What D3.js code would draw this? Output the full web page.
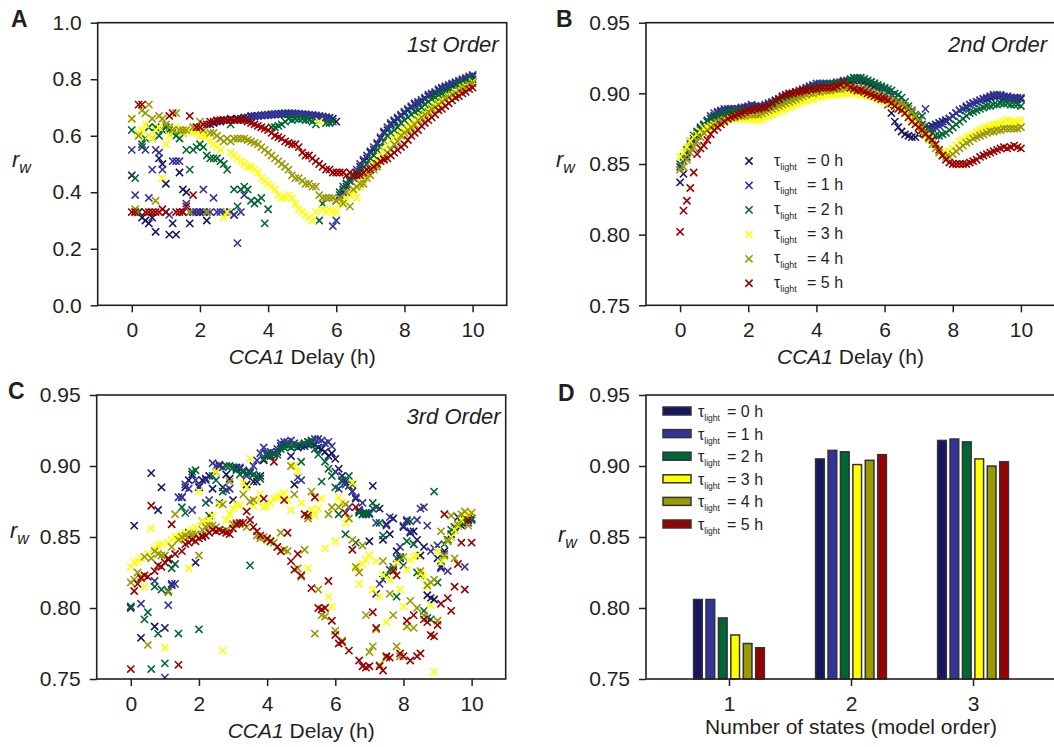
<!DOCTYPE html>
<html>
<head>
<meta charset="utf-8">
<script src="https://cdn.jsdelivr.net/npm/d3@7"></script>
<style>
  body { margin: 0; background: #fff; }
  svg text { font-family: "Liberation Sans", Arial, Helvetica, sans-serif; fill: #231f20; }
</style>
</head>
<body>
<svg id="fig" width="1054" height="747"></svg>
<script>
// ---- data ----
const COLORS = ["#151560", "#333399", "#006633", "#ffff00", "#999900", "#990000"];
const TAU_LIGHT = ["0", "1", "2", "3", "4", "5"];
const X_TICKS = [0, 2, 4, 6, 8, 10];
const Y_TICKS_ORDER1 = [0, 0.2, 0.4, 0.6, 0.8, 1.0];
const Y_TICKS_FINE = [0.75, 0.80, 0.85, 0.90, 0.95];
const MODEL_ORDER = [1, 2, 3];

// CCA1 delay grid (h)
const DELAY = [
  0, 0.1, 0.2, 0.3, 0.4, 0.5, 0.6, 0.7, 0.8, 0.9,
  1, 1.1, 1.2, 1.3, 1.4, 1.5, 1.6, 1.7, 1.8, 1.9,
  2, 2.1, 2.2, 2.3, 2.4, 2.5, 2.6, 2.7, 2.8, 2.9,
  3, 3.1, 3.2, 3.3, 3.4, 3.5, 3.6, 3.7, 3.8, 3.9,
  4, 4.1, 4.2, 4.3, 4.4, 4.5, 4.6, 4.7, 4.8, 4.9,
  5, 5.1, 5.2, 5.3, 5.4, 5.5, 5.6, 5.7, 5.8, 5.9,
  6, 6.1, 6.2, 6.3, 6.4, 6.5, 6.6, 6.7, 6.8, 6.9,
  7, 7.1, 7.2, 7.3, 7.4, 7.5, 7.6, 7.7, 7.8, 7.9,
  8, 8.1, 8.2, 8.3, 8.4, 8.5, 8.6, 8.7, 8.8, 8.9,
  9, 9.1, 9.2, 9.3, 9.4, 9.5, 9.6, 9.7, 9.8, 9.9,
  10
];

// 1st order model, r_w per delay
const order1_tau0 = [
  0.46, 0.33, 0.33, 0.31, 0.30, 0.29, 0.31, 0.26, 0.52, 0.50,
  0.43, 0.25, 0.29, 0.25, 0.47, 0.41, 0.40, 0.29, 0.33, 0.33,
  0.33, 0.33, 0.30, 0.64, 0.645, 0.65, 0.65, 0.655, 0.655, 0.66,
  0.32, 0.66, 0.66, 0.665, 0.665, 0.67, 0.67, 0.67, 0.672, 0.672,
  0.673, 0.674, 0.675, 0.676, 0.676, 0.677, 0.677, 0.677, 0.676, 0.676,
  0.675, 0.674, 0.673, 0.672, 0.67, 0.668, 0.666, 0.664, 0.662, 0.66,
  0.65, 0.38, 0.40, 0.42, 0.44, 0.46, 0.47, 0.49, 0.51, 0.52,
  0.54, 0.55, 0.57, 0.59, 0.61, 0.62, 0.64, 0.65, 0.66, 0.67,
  0.68, 0.69, 0.70, 0.71, 0.715, 0.72, 0.73, 0.74, 0.745, 0.75,
  0.76, 0.765, 0.77, 0.775, 0.78, 0.785, 0.79, 0.795, 0.80, 0.805,
  0.81
];
const order1_tau1 = [
  0.55, 0.39, 0.33, 0.56, 0.55, 0.38, 0.48, 0.55, 0.54, 0.48,
  0.33, 0.32, 0.51, 0.51, 0.51, 0.33, 0.36, 0.33, 0.33, 0.33,
  0.33, 0.41, 0.33, 0.33, 0.38, 0.33, 0.33, 0.33, 0.33, 0.33,
  0.32, 0.22, 0.33, 0.39, 0.66, 0.665, 0.668, 0.67, 0.672, 0.674,
  0.675, 0.676, 0.677, 0.678, 0.679, 0.68, 0.68, 0.68, 0.679, 0.678,
  0.677, 0.676, 0.675, 0.674, 0.672, 0.67, 0.668, 0.666, 0.664, 0.28,
  0.30, 0.39, 0.41, 0.43, 0.45, 0.46, 0.48, 0.50, 0.515, 0.53,
  0.545, 0.56, 0.575, 0.595, 0.615, 0.63, 0.645, 0.655, 0.665, 0.675,
  0.685, 0.695, 0.705, 0.715, 0.72, 0.727, 0.735, 0.745, 0.75, 0.755,
  0.765, 0.77, 0.775, 0.78, 0.785, 0.79, 0.795, 0.80, 0.805, 0.81,
  0.815
];
const order1_tau2 = [
  0.62, 0.45, 0.33, 0.57, 0.59, 0.63, 0.59, 0.63, 0.60, 0.62,
  0.63, 0.62, 0.61, 0.60, 0.59, 0.61, 0.55, 0.48, 0.55, 0.56,
  0.57, 0.56, 0.53, 0.52, 0.52, 0.52, 0.51, 0.50, 0.48, 0.64,
  0.41, 0.35, 0.41, 0.42, 0.41, 0.37, 0.36, 0.37, 0.38, 0.29,
  0.34, 0.63, 0.63, 0.635, 0.64, 0.65, 0.66, 0.655, 0.66, 0.66,
  0.66, 0.655, 0.655, 0.65, 0.64, 0.30, 0.36, 0.645, 0.645, 0.65,
  0.37, 0.40, 0.42, 0.43, 0.44, 0.45, 0.46, 0.47, 0.49, 0.50,
  0.52, 0.53, 0.55, 0.56, 0.58, 0.60, 0.61, 0.62, 0.63, 0.645,
  0.655, 0.665, 0.675, 0.685, 0.69, 0.70, 0.71, 0.72, 0.73, 0.735,
  0.745, 0.75, 0.755, 0.76, 0.765, 0.775, 0.78, 0.785, 0.79, 0.795,
  0.80
];
const order1_tau3 = [
  0.66, 0.33, 0.61, 0.62, 0.64, 0.60, 0.59, 0.62, 0.63, 0.45,
  0.57, 0.60, 0.62, 0.63, 0.62, 0.61, 0.62, 0.62, 0.61, 0.61,
  0.60, 0.60, 0.60, 0.58, 0.57, 0.56, 0.55, 0.31, 0.33, 0.54,
  0.53, 0.52, 0.51, 0.50, 0.49, 0.49, 0.48, 0.47, 0.45, 0.44,
  0.43, 0.42, 0.41, 0.39, 0.38, 0.38, 0.39, 0.38, 0.36, 0.34,
  0.33, 0.32, 0.31, 0.30, 0.33, 0.65, 0.34, 0.33, 0.34, 0.33,
  0.33, 0.36, 0.37, 0.38, 0.39, 0.40, 0.38, 0.42, 0.44, 0.46,
  0.48, 0.50, 0.51, 0.53, 0.55, 0.565, 0.58, 0.59, 0.60, 0.61,
  0.62, 0.63, 0.64, 0.65, 0.66, 0.67, 0.68, 0.69, 0.70, 0.71,
  0.715, 0.725, 0.73, 0.74, 0.745, 0.755, 0.76, 0.77, 0.775, 0.78,
  0.79
];
const order1_tau4 = [
  0.66, 0.34, 0.60, 0.69, 0.68, 0.71, 0.66, 0.37, 0.67, 0.66,
  0.64, 0.63, 0.62, 0.68, 0.62, 0.62, 0.62, 0.33, 0.63, 0.63,
  0.65, 0.62, 0.33, 0.61, 0.61, 0.60, 0.59, 0.58, 0.59, 0.58,
  0.59, 0.59, 0.59, 0.59, 0.585, 0.58, 0.575, 0.57, 0.56, 0.55,
  0.54, 0.53, 0.52, 0.51, 0.50, 0.49, 0.48, 0.46, 0.45, 0.45,
  0.44, 0.43, 0.43, 0.42, 0.42, 0.39, 0.38, 0.38, 0.38, 0.38,
  0.37, 0.38, 0.36, 0.40, 0.35, 0.41, 0.42, 0.43, 0.43, 0.45,
  0.46, 0.48, 0.49, 0.51, 0.52, 0.54, 0.55, 0.57, 0.58, 0.60,
  0.61, 0.62, 0.63, 0.64, 0.655, 0.665, 0.675, 0.685, 0.695, 0.70,
  0.71, 0.72, 0.73, 0.735, 0.745, 0.75, 0.76, 0.765, 0.77, 0.78,
  0.785
];
const order1_tau5 = [
  0.33, 0.33, 0.71, 0.71, 0.33, 0.33, 0.33, 0.33, 0.33, 0.34,
  0.33, 0.67, 0.68, 0.33, 0.33, 0.33, 0.35, 0.67, 0.39, 0.63,
  0.63, 0.64, 0.64, 0.65, 0.65, 0.655, 0.655, 0.655, 0.655, 0.655,
  0.655, 0.655, 0.655, 0.655, 0.65, 0.645, 0.64, 0.635, 0.63, 0.625,
  0.62, 0.61, 0.60, 0.595, 0.59, 0.58, 0.575, 0.57, 0.57, 0.56,
  0.54, 0.53, 0.53, 0.52, 0.51, 0.50, 0.49, 0.48, 0.48, 0.47,
  0.47, 0.47, 0.47, 0.46, 0.47, 0.46, 0.46, 0.46, 0.47, 0.48,
  0.48, 0.49, 0.50, 0.51, 0.515, 0.52, 0.53, 0.54, 0.55, 0.56,
  0.57, 0.585, 0.60, 0.61, 0.62, 0.635, 0.645, 0.655, 0.665, 0.675,
  0.69, 0.695, 0.705, 0.715, 0.725, 0.735, 0.74, 0.75, 0.755, 0.765,
  0.77
];

// 2nd order model
const order2_tau0 = [
  0.837, 0.843, 0.855, 0.862, 0.866, 0.870, 0.874, 0.877, 0.880, 0.882,
  0.884, 0.886, 0.887, 0.888, 0.888, 0.889, 0.889, 0.889, 0.889, 0.890,
  0.890, 0.891, 0.891, 0.890, 0.890, 0.891, 0.892, 0.893, 0.894, 0.895,
  0.896, 0.897, 0.898, 0.899, 0.900, 0.901, 0.902, 0.903, 0.904, 0.905,
  0.905, 0.906, 0.906, 0.906, 0.906, 0.906, 0.907, 0.907, 0.908, 0.908,
  0.908, 0.909, 0.909, 0.909, 0.908, 0.907, 0.906, 0.905, 0.903, 0.901,
  0.898, 0.892, 0.886, 0.880, 0.876, 0.873, 0.871, 0.870, 0.869, 0.869,
  0.871, 0.872, 0.874, 0.876, 0.877, 0.878, 0.879, 0.880, 0.881, 0.882,
  0.884, 0.886, 0.888, 0.889, 0.890, 0.892, 0.893, 0.894, 0.895, 0.896,
  0.896, 0.897, 0.898, 0.898, 0.898, 0.897, 0.897, 0.897, 0.896, 0.896,
  0.896
];
const order2_tau1 = [
  0.848, 0.852, 0.858, 0.864, 0.868, 0.872, 0.875, 0.878, 0.881, 0.884,
  0.886, 0.887, 0.888, 0.889, 0.889, 0.889, 0.889, 0.889, 0.890, 0.890,
  0.891, 0.892, 0.891, 0.891, 0.891, 0.892, 0.893, 0.894, 0.895, 0.896,
  0.897, 0.898, 0.899, 0.900, 0.901, 0.902, 0.903, 0.904, 0.905, 0.906,
  0.907, 0.907, 0.907, 0.907, 0.907, 0.907, 0.908, 0.908, 0.909, 0.909,
  0.910, 0.911, 0.911, 0.911, 0.910, 0.909, 0.908, 0.907, 0.905, 0.904,
  0.903, 0.901, 0.899, 0.897, 0.895, 0.893, 0.891, 0.889, 0.886, 0.883,
  0.880, 0.878, 0.889, 0.875, 0.875, 0.876, 0.877, 0.878, 0.880, 0.882,
  0.884, 0.886, 0.888, 0.889, 0.891, 0.892, 0.893, 0.894, 0.895, 0.896,
  0.897, 0.898, 0.899, 0.899, 0.899, 0.898, 0.898, 0.897, 0.897, 0.897,
  0.897
];
const order2_tau2 = [
  0.850, 0.855, 0.860, 0.866, 0.870, 0.873, 0.876, 0.878, 0.880, 0.882,
  0.883, 0.884, 0.885, 0.886, 0.887, 0.887, 0.887, 0.887, 0.888, 0.888,
  0.888, 0.889, 0.889, 0.889, 0.889, 0.890, 0.891, 0.892, 0.893, 0.894,
  0.895, 0.896, 0.897, 0.898, 0.899, 0.900, 0.901, 0.902, 0.903, 0.904,
  0.904, 0.905, 0.905, 0.906, 0.906, 0.906, 0.907, 0.907, 0.908, 0.909,
  0.910, 0.911, 0.911, 0.911, 0.910, 0.909, 0.908, 0.907, 0.906, 0.905,
  0.904, 0.903, 0.902, 0.900, 0.899, 0.897, 0.894, 0.891, 0.888, 0.885,
  0.882, 0.884, 0.877, 0.874, 0.872, 0.870, 0.870, 0.871, 0.872, 0.874,
  0.876, 0.878, 0.880, 0.882, 0.884, 0.886, 0.887, 0.888, 0.889, 0.890,
  0.891, 0.891, 0.892, 0.892, 0.893, 0.893, 0.893, 0.892, 0.892, 0.892,
  0.891
];
const order2_tau3 = [
  0.855, 0.858, 0.862, 0.866, 0.869, 0.871, 0.873, 0.875, 0.876, 0.877,
  0.878, 0.879, 0.880, 0.881, 0.881, 0.882, 0.882, 0.882, 0.882, 0.882,
  0.882, 0.882, 0.881, 0.881, 0.882, 0.883, 0.884, 0.885, 0.886, 0.887,
  0.888, 0.889, 0.890, 0.891, 0.892, 0.893, 0.894, 0.895, 0.896, 0.896,
  0.897, 0.898, 0.898, 0.899, 0.899, 0.899, 0.899, 0.900, 0.900, 0.900,
  0.900, 0.900, 0.900, 0.899, 0.899, 0.898, 0.898, 0.897, 0.896, 0.895,
  0.894, 0.893, 0.892, 0.891, 0.890, 0.889, 0.887, 0.885, 0.882, 0.879,
  0.876, 0.873, 0.870, 0.867, 0.864, 0.861, 0.859, 0.858, 0.858, 0.859,
  0.861, 0.863, 0.866, 0.867, 0.869, 0.870, 0.871, 0.873, 0.874, 0.875,
  0.876, 0.877, 0.878, 0.878, 0.879, 0.880, 0.881, 0.880, 0.880, 0.880,
  0.881
];
const order2_tau4 = [
  0.846, 0.848, 0.853, 0.858, 0.862, 0.866, 0.869, 0.872, 0.874, 0.876,
  0.877, 0.879, 0.880, 0.881, 0.882, 0.883, 0.883, 0.884, 0.884, 0.884,
  0.885, 0.885, 0.885, 0.885, 0.886, 0.887, 0.888, 0.889, 0.890, 0.891,
  0.892, 0.893, 0.894, 0.895, 0.896, 0.897, 0.898, 0.899, 0.900, 0.900,
  0.901, 0.901, 0.902, 0.902, 0.902, 0.903, 0.903, 0.903, 0.904, 0.904,
  0.904, 0.904, 0.904, 0.903, 0.903, 0.902, 0.901, 0.900, 0.899, 0.898,
  0.897, 0.896, 0.895, 0.894, 0.893, 0.892, 0.891, 0.889, 0.887, 0.884,
  0.880, 0.876, 0.872, 0.868, 0.864, 0.861, 0.858, 0.856, 0.855, 0.855,
  0.857, 0.859, 0.861, 0.863, 0.865, 0.866, 0.868, 0.869, 0.870, 0.871,
  0.872, 0.873, 0.873, 0.874, 0.874, 0.875, 0.875, 0.875, 0.875, 0.875,
  0.876
];
const order2_tau5 = [
  0.802, 0.817, 0.824, 0.833, 0.844, 0.857, 0.861, 0.863, 0.867, 0.871,
  0.874, 0.876, 0.878, 0.880, 0.882, 0.883, 0.884, 0.885, 0.886, 0.887,
  0.888, 0.888, 0.889, 0.889, 0.890, 0.890, 0.891, 0.893, 0.895, 0.896,
  0.898, 0.899, 0.900, 0.900, 0.901, 0.901, 0.902, 0.902, 0.903, 0.903,
  0.903, 0.904, 0.904, 0.904, 0.904, 0.904, 0.905, 0.906, 0.908, 0.906,
  0.904, 0.903, 0.902, 0.902, 0.901, 0.900, 0.899, 0.898, 0.897, 0.896,
  0.896, 0.895, 0.893, 0.891, 0.889, 0.888, 0.886, 0.883, 0.880, 0.878,
  0.876, 0.874, 0.871, 0.869, 0.867, 0.864, 0.860, 0.856, 0.853, 0.851,
  0.850, 0.850, 0.850, 0.850, 0.850, 0.851, 0.852, 0.853, 0.855, 0.856,
  0.857, 0.858, 0.859, 0.860, 0.861, 0.862, 0.861, 0.862, 0.863, 0.862,
  0.861
];

// 3rd order model (null = below the plotted range)
const order3_tau0 = [
  0.800, 0.858, null, 0.779, null, null, 0.895, 0.787, 0.869, 0.885,
  0.786, 0.834, 0.817, null, null, 0.878, 0.885, 0.890, 0.894, 0.832,
  0.885, 0.890, 0.891, 0.893, 0.884, 0.896, 0.900, 0.885, 0.894, 0.891,
  0.876, 0.899, 0.898, 0.896, 0.887, 0.895, 0.889, 0.889, 0.893, 0.904,
  0.908, 0.907, 0.909, 0.910, 0.914, 0.915, 0.915, 0.907, 0.887, 0.913,
  0.914, 0.914, 0.915, 0.916, 0.915, 0.913, 0.912, 0.910, 0.907, 0.909,
  0.905, 0.898, 0.893, 0.889, 0.886, 0.882, 0.877, 0.869, 0.866, 0.866,
  0.847, 0.886, 0.810, 0.870, 0.848, 0.859, 0.852, 0.863, 0.840, 0.835,
  0.857, 0.861, 0.853, 0.854, 0.848, 0.837, 0.843, 0.809, 0.807, 0.806,
  0.835, 0.829, 0.840, 0.848, 0.852, 0.855, 0.864, 0.858, 0.864, 0.862,
  0.863
];
const order3_tau1 = [
  0.801, null, null, 0.803, null, null, null, 0.819, null, null,
  0.751, 0.802, 0.816, 0.817, 0.878, 0.878, 0.887, 0.884, 0.869, 0.890,
  0.886, 0.861, 0.890, 0.876, 0.902, 0.900, 0.901, 0.899, 0.883, 0.884,
  0.899, 0.898, 0.899, 0.897, 0.893, 0.896, 0.900, 0.904, 0.909, 0.913,
  0.909, 0.910, 0.909, 0.912, 0.916, 0.917, 0.917, 0.918, 0.916, 0.892,
  0.890, 0.915, 0.917, 0.918, 0.919, 0.919, 0.918, 0.916, 0.917, 0.914,
  0.896, 0.884, 0.889, 0.887, 0.871, 0.882, 0.878, 0.868, 0.874, 0.867,
  0.866, 0.870, 0.860, 0.817, 0.820, 0.858, 0.864, 0.829, 0.835, 0.843,
  0.858, 0.862, 0.854, 0.845, 0.862, 0.870, 0.871, 0.858, 0.840, 0.842,
  0.844, 0.828, 0.838, 0.826, 0.850, 0.857, 0.858, 0.861, 0.829, 0.860,
  0.862
];
const order3_tau2 = [
  0.801, null, null, null, 0.792, 0.797, 0.757, 0.815, 0.782, 0.813,
  0.761, 0.812, 0.828, 0.831, 0.782, 0.871, 0.867, 0.853, 0.896, 0.897,
  0.785, 0.851, 0.874, 0.865, 0.893, 0.890, 0.874, 0.882, 0.900, 0.900,
  0.899, 0.897, 0.894, 0.896, 0.895, 0.830, 0.894, 0.893, 0.891, 0.905,
  0.907, 0.908, 0.908, 0.908, 0.912, 0.913, 0.914, 0.913, 0.914, 0.915,
  0.903, 0.916, 0.917, 0.917, 0.912, 0.908, 0.889, 0.903, 0.898, 0.893,
  0.885, 0.866, 0.890, 0.852, 0.893, 0.887, 0.846, 0.867, 0.866, 0.867,
  0.867, 0.874, 0.871, 0.860, 0.851, 0.823, 0.827, 0.827, 0.808, 0.836,
  0.830, 0.847, 0.861, 0.845, 0.825, 0.823, 0.798, 0.793, 0.792, 0.882,
  0.818, 0.833, 0.845, 0.848, 0.855, 0.857, 0.858, 0.860, 0.862, 0.863,
  0.863
];
const order3_tau3 = [
  0.829, 0.832, 0.833, 0.835, 0.815, 0.838, 0.856, 0.842, 0.844, 0.845,
  0.772, 0.846, 0.848, 0.850, 0.850, 0.851, 0.853, 0.828, 0.855, 0.857,
  0.882, 0.861, 0.860, 0.862, 0.865, 0.896, 0.873, 0.770, 0.862, 0.866,
  0.870, 0.873, 0.872, 0.888, 0.885, 0.905, 0.872, 0.875, 0.880, 0.871,
  0.872, 0.874, 0.877, 0.878, 0.879, 0.881, 0.876, 0.869, 0.900, 0.896,
  0.874, 0.866, 0.828, 0.869, 0.865, 0.870, 0.877, 0.842, 0.808, 0.801,
  0.847, 0.878, 0.874, 0.860, 0.863, 0.888, 0.828, 0.817, 0.831, 0.834,
  0.837, 0.813, 0.833, 0.808, 0.823, 0.790, 0.820, 0.826, 0.832, 0.813,
  0.801, 0.827, 0.834, 0.836, 0.837, 0.824, 0.822, 0.815, 0.802, 0.755,
  0.840, 0.832, 0.836, 0.847, 0.850, 0.855, 0.858, 0.862, 0.865, 0.866,
  0.867
];
const order3_tau4 = [
  0.818, 0.820, 0.825, 0.822, 0.836, 0.774, 0.835, 0.840, 0.838, 0.837,
  0.837, 0.811, 0.843, 0.866, 0.848, 0.850, 0.851, 0.850, 0.852, 0.852,
  0.837, 0.855, 0.857, 0.858, 0.858, 0.857, 0.855, 0.873, 0.855, 0.889,
  0.859, 0.860, 0.859, 0.880, 0.857, 0.875, 0.876, 0.851, 0.849, 0.850,
  0.848, 0.847, 0.846, 0.843, 0.853, 0.841, 0.840, 0.900, 0.880, 0.828,
  0.822, 0.841, 0.863, 0.882, 0.782, 0.813, 0.795, 0.794, 0.866, 0.871,
  0.784, 0.871, 0.777, 0.873, 0.863, 0.848, 0.829, 0.825, 0.844, 0.795,
  0.769, 0.773, 0.785, 0.760, 0.833, 0.765, 0.810, 0.795, 0.773, 0.766,
  0.836, 0.787, 0.805, 0.786, 0.800, 0.826, 0.795, 0.816, 0.818, 0.820,
  0.791, 0.854, 0.837, 0.847, 0.865, 0.835, 0.859, 0.866, 0.868, 0.858,
  0.867
];
const order3_tau5 = [
  0.757, 0.812, 0.817, 0.821, 0.823, 0.822, 0.872, 0.826, 0.830, 0.829,
  0.832, 0.835, 0.859, 0.838, 0.760, 0.840, 0.845, 0.846, 0.848, 0.847,
  0.849, 0.850, 0.851, 0.853, 0.855, 0.854, 0.855, 0.854, 0.853, 0.852,
  0.856, 0.859, 0.860, 0.860, 0.868, 0.862, 0.857, 0.854, 0.851, 0.877,
  0.849, 0.847, 0.903, 0.843, 0.840, 0.876, 0.853, 0.833, 0.827, 0.838,
  0.823, 0.866, 0.865, 0.814, 0.878, 0.800, 0.799, 0.800, 0.819, 0.791,
  0.781, 0.775, 0.776, 0.867, 0.770, 0.841, 0.871, 0.763, 0.759, 0.758,
  0.759, 0.797, 0.786, 0.759, 0.756, 0.766, 0.765, 0.826, 0.823, 0.768,
  0.766, 0.791, 0.763, 0.795, 0.766, 0.768, 0.792, 0.790, 0.781, 0.780,
  0.788, 0.803, 0.866, 0.807, 0.798, 0.815, 0.831, 0.846, 0.813, 0.862,
  0.846
];

// best r_w per model order (1, 2, 3 states)
const best_tau0 = [0.806, 0.905, 0.918];
const best_tau1 = [0.806, 0.911, 0.919];
const best_tau2 = [0.793, 0.910, 0.917];
const best_tau3 = [0.781, 0.901, 0.905];
const best_tau4 = [0.775, 0.904, 0.900];
const best_tau5 = [0.772, 0.908, 0.903];

// ---- drawing ----
const INK = "#231f20";
const svg = d3.select("#fig");

function styleAxis(g, fontSize) {
  g.select(".domain").remove();
  g.attr("font-family", null).attr("font-size", null);
  g.selectAll(".tick line").attr("stroke", INK).attr("stroke-width", 1.5);
  g.selectAll(".tick text").attr("font-size", fontSize).style("fill", INK);
}

function rwLabel(x, y) {
  const t = svg.append("text").attr("x", x).attr("y", y)
    .attr("font-style", "italic").attr("font-size", 22);
  t.append("tspan").text("r");
  t.append("tspan").attr("font-size", 16).attr("dy", 6).text("w");
}

function panelLetter(txt, x, y) {
  svg.append("text").attr("x", x).attr("y", y)
    .attr("font-weight", "bold").attr("font-size", 23).text(txt);
}

function delayLabel(cx, y) {
  const t = svg.append("text").attr("x", cx).attr("y", y)
    .attr("text-anchor", "middle").attr("font-size", 21);
  t.append("tspan").attr("font-style", "italic").text("CCA1");
  t.append("tspan").text(" Delay (h)");
}

function scatterPanel(cfg) {
  const x = d3.scaleLinear().domain([-1, 11]).range([cfg.left, cfg.left + 409]);
  const y = d3.scaleLinear().domain(cfg.yDomain).range([cfg.bottom, cfg.top]);
  const clipId = "clip-" + cfg.id;

  svg.append("clipPath").attr("id", clipId).append("rect")
    .attr("x", cfg.left).attr("y", cfg.top)
    .attr("width", 409).attr("height", cfg.bottom - cfg.top);

  const plot = svg.append("g").attr("clip-path", `url(#${clipId})`);
  cfg.series.forEach((vals, i) => {
    const pts = DELAY.map((d, k) => ({ x: d, y: vals[k] })).filter(p => p.y != null);
    plot.append("g").selectAll("path").data(pts).join("path")
      .attr("transform", d => `translate(${x(d.x)},${y(d.y)})`)
      .attr("d", "M-3.6,-3.6L3.6,3.6M-3.6,3.6L3.6,-3.6")
      .attr("fill", "none")
      .attr("stroke", COLORS[i])
      .attr("stroke-width", 1.6);
  });

  svg.append("rect")
    .attr("x", cfg.left).attr("y", cfg.top)
    .attr("width", cfg.frameWidth).attr("height", cfg.bottom - cfg.top)
    .attr("fill", "none").attr("stroke", INK).attr("stroke-width", 1.6);

  svg.append("g").attr("transform", `translate(0,${cfg.bottom})`)
    .call(d3.axisBottom(x).tickValues(X_TICKS).tickSize(7).tickPadding(10).tickFormat(d3.format("d")))
    .call(g => styleAxis(g, 21));
  svg.append("g").attr("transform", `translate(${cfg.left},0)`)
    .call(d3.axisLeft(y).tickValues(cfg.yTicks).tickSize(7).tickPadding(9).tickFormat(d3.format(cfg.yFormat)))
    .call(g => styleAxis(g, 21));

  svg.append("text").attr("x", cfg.left + cfg.titleRight).attr("y", cfg.top + 29)
    .attr("text-anchor", "end").attr("font-style", "italic").attr("font-size", 22)
    .text(cfg.title);

  delayLabel(cfg.left + 204.5, cfg.bottom + 59);
  return { x, y };
}

// A
scatterPanel({
  id: "a", left: 97.7, top: 22.7, bottom: 305.3, frameWidth: 409,
  yDomain: [0, 1], yTicks: Y_TICKS_ORDER1, yFormat: ".1f",
  series: [order1_tau0, order1_tau1, order1_tau2, order1_tau3, order1_tau4, order1_tau5],
  title: "1st Order", titleRight: 401
});
panelLetter("A", 11, 27);
rwLabel(12, 167);

// B
scatterPanel({
  id: "b", left: 646, top: 22.7, bottom: 305.3, frameWidth: 430,
  yDomain: [0.75, 0.95], yTicks: Y_TICKS_FINE, yFormat: ".2f",
  series: [order2_tau0, order2_tau1, order2_tau2, order2_tau3, order2_tau4, order2_tau5],
  title: "2nd Order", titleRight: 401
});
panelLetter("B", 556, 27);
rwLabel(556, 167);

// legend B
const legB = svg.append("g");
TAU_LIGHT.forEach((t, i) => {
  const ry = 161 + 24.45 * i;
  legB.append("path")
    .attr("transform", `translate(749,${ry})`)
    .attr("d", "M-3.6,-3.6L3.6,3.6M-3.6,3.6L3.6,-3.6")
    .attr("stroke", COLORS[i]).attr("stroke-width", 1.6);
  const tx = legB.append("text").attr("x", 774).attr("y", ry + 4.5).attr("font-size", 16);
  tx.append("tspan").text("\u03c4");
  tx.append("tspan").attr("font-size", 9).attr("dy", 4.5).text("light");
  legB.append("text").attr("x", 807).attr("y", ry + 5).attr("font-size", 16).text("= " + t + " h");
});

// C
scatterPanel({
  id: "c", left: 96.7, top: 395, bottom: 679, frameWidth: 409,
  yDomain: [0.75, 0.95], yTicks: Y_TICKS_FINE, yFormat: ".2f",
  series: [order3_tau0, order3_tau1, order3_tau2, order3_tau3, order3_tau4, order3_tau5],
  title: "3rd Order", titleRight: 404
});
panelLetter("C", 8, 399);
rwLabel(10, 538);

// D: bar chart
(function () {
  const left = 646, top = 395, bottom = 679;
  const x = d3.scaleLinear().domain([0.32, 3.68]).range([left, 1056]);
  const y = d3.scaleLinear().domain([0.75, 0.95]).range([bottom, top]);
  const inner = d3.scaleBand().domain(TAU_LIGHT).range([-35.4, 35.4]).paddingInner(0.3);
  const best = [best_tau0, best_tau1, best_tau2, best_tau3, best_tau4, best_tau5];

  best.forEach((vals, i) => {
    svg.append("g").selectAll("rect").data(vals).join("rect")
      .attr("x", (v, k) => x(MODEL_ORDER[k]) + inner(TAU_LIGHT[i]))
      .attr("y", v => y(v))
      .attr("width", inner.bandwidth())
      .attr("height", v => y(0.75) - y(v))
      .attr("fill", COLORS[i])
      .attr("stroke", "#333").attr("stroke-width", 1.5);
  });

  svg.append("rect").attr("x", left).attr("y", top)
    .attr("width", 430).attr("height", bottom - top)
    .attr("fill", "none").attr("stroke", INK).attr("stroke-width", 1.6);

  svg.append("g").attr("transform", `translate(0,${bottom})`)
    .call(d3.axisBottom(x).tickValues(MODEL_ORDER).tickSize(7).tickPadding(10).tickFormat(d3.format("d")))
    .call(g => styleAxis(g, 21));
  svg.append("g").attr("transform", `translate(${left},0)`)
    .call(d3.axisLeft(y).tickValues(Y_TICKS_FINE).tickSize(7).tickPadding(9).tickFormat(d3.format(".2f")))
    .call(g => styleAxis(g, 21));

  svg.append("text").attr("x", 851).attr("y", 734).attr("text-anchor", "middle")
    .attr("font-size", 21).text("Number of states (model order)");

  // legend D
  TAU_LIGHT.forEach((t, i) => {
    const ry = 411 + 22.6 * i;
    svg.append("rect").attr("x", 663).attr("y", ry - 4).attr("width", 28).attr("height", 8)
      .attr("fill", COLORS[i]).attr("stroke", "#333").attr("stroke-width", 1.5);
    const tx = svg.append("text").attr("x", 698).attr("y", ry + 6).attr("font-size", 16);
    tx.append("tspan").text("\u03c4");
    tx.append("tspan").attr("font-size", 8.5).attr("dy", 4).text("light");
    svg.append("text").attr("x", 727).attr("y", ry + 6).attr("font-size", 16).text("= " + t + " h");
  });
})();
panelLetter("D", 558, 401);
rwLabel(558, 542);
</script>
</body>
</html>
